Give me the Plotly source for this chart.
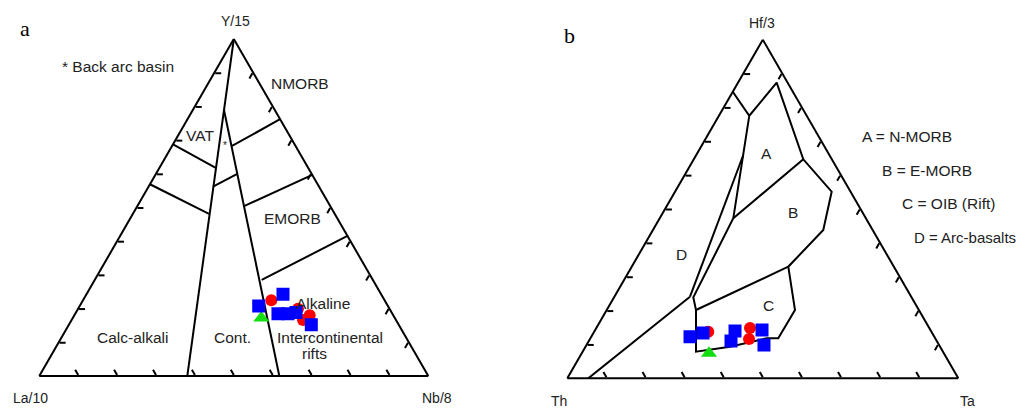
import plotly.graph_objects as go

# The page places the figure 8 px from the top-left corner of the window,
# so the figure is 1020x400 and all reference pixel positions are shifted by 8.
W, H = 1020, 400
OFF = 8

# ---------------- Panel a : La/10 - Y/15 - Nb/8 ----------------
# ternary fractions (a = Y/15 apex, b = La/10 left, c = Nb/8 right)
a_cont_left = [(1.0, 0.0, 0.0), (0.0, 0.6195, 0.3805)]
a_cont_right = [(0.7896, 0.1304, 0.080), (0.0, 0.383, 0.617)]
a_vat_low = [(0.6877, 0.3123, 0.0), (0.6183, 0.2384, 0.1433)]
a_calc_top = [(0.569, 0.431, 0.0), (0.4809, 0.3233, 0.1958)]
a_bab_low = [(0.5619, 0.2725, 0.1656), (0.5996, 0.1912, 0.2092)]
a_nmorb_low = [(0.6827, 0.1632, 0.1541), (0.762, 0.0, 0.238)]
a_emorb_low = [(0.5046, 0.2202, 0.2752), (0.5966, 0.0, 0.4034)]
a_alk_top = [(0.285, 0.2858, 0.4292), (0.4156, 0.0, 0.5844)]
a_lines = [a_cont_left, a_cont_right, a_vat_low, a_calc_top,
           a_bab_low, a_nmorb_low, a_emorb_low, a_alk_top]

a_sq_a = [0.2078, 0.2425, 0.1849, 0.1849, 0.1885, 0.1523]
a_sq_b = [0.3321, 0.2523, 0.2940, 0.2683, 0.2458, 0.2246]
a_sq_c = [0.4601, 0.5052, 0.5211, 0.5468, 0.5657, 0.6231]
a_ci_a = [0.2247, 0.1998, 0.1802, 0.1662]
a_ci_b = [0.2912, 0.2351, 0.2148, 0.2390]
a_ci_c = [0.4841, 0.5651, 0.6050, 0.5948]
a_tr_a = [0.1722]
a_tr_b = [0.3432]
a_tr_c = [0.4846]

# ---------------- Panel b : Th - Hf/3 - Ta ----------------
# (a = Hf/3 apex, b = Th left, c = Ta right)
b_outline = [(0.8464, 0.1536, 0.0), (0.7755, 0.1468, 0.0777), (0.873, 0.028, 0.099),
             (0.6468, 0.073, 0.2802), (0.5511, 0.0483, 0.4006), (0.438, 0.1263, 0.4357),
             (0.3296, 0.270, 0.4004), (0.2017, 0.3168, 0.4815), (0.1181, 0.4014, 0.4805),
             (0.1181, 0.431, 0.4509), (0.0933, 0.5373, 0.3694), (0.0786, 0.6315, 0.2899),
             (0.2017, 0.570, 0.2283), (0.2392, 0.5581, 0.2027), (0.4725, 0.3392, 0.1883),
             (0.7755, 0.1468, 0.0777)]
b_wedge = [(0.6595, 0.2201, 0.1204), (0.241, 0.5657, 0.1933)]
b_d_low = [(0.0, 0.9463, 0.0537), (0.241, 0.5657, 0.1933)]
b_ab = [(0.6468, 0.073, 0.2802), (0.4725, 0.3392, 0.1883)]
b_bc = [(0.2017, 0.570, 0.2283), (0.3296, 0.270, 0.4004)]
b_lines = [b_outline, b_wedge, b_d_low, b_ab, b_bc]

b_sq_a = [0.1229, 0.1338, 0.1397, 0.1102, 0.1426, 0.0983]
b_sq_b = [0.6247, 0.5860, 0.5012, 0.5262, 0.4307, 0.4478]
b_sq_c = [0.2524, 0.2802, 0.3591, 0.3636, 0.4267, 0.4539]
b_ci_a = [0.1376, 0.1486, 0.1161]
b_ci_b = [0.5706, 0.4584, 0.4772]
b_ci_c = [0.2918, 0.3930, 0.4067]
b_tr_a = [0.0738]
b_tr_b = [0.6007]
b_tr_c = [0.3255]

BLUE, RED, GREEN = "#0000ff", "#ff0000", "#11dd11"
LINE = "#000000"

fig = go.Figure()


def add_panel(sub, lines, sq, ci, tr):
    for ln in lines:
        fig.add_trace(go.Scatterternary(
            a=[p[0] for p in ln], b=[p[1] for p in ln], c=[p[2] for p in ln],
            mode="lines", line=dict(color=LINE, width=2),
            subplot=sub, hoverinfo="skip", showlegend=False))
    fig.add_trace(go.Scatterternary(a=tr[0], b=tr[1], c=tr[2], mode="markers",
                                    marker=dict(symbol="triangle-up", size=14, color=GREEN),
                                    subplot=sub, showlegend=False))
    fig.add_trace(go.Scatterternary(a=ci[0], b=ci[1], c=ci[2], mode="markers",
                                    marker=dict(symbol="circle", size=12, color=RED),
                                    subplot=sub, showlegend=False))
    fig.add_trace(go.Scatterternary(a=sq[0], b=sq[1], c=sq[2], mode="markers",
                                    marker=dict(symbol="square", size=13, color=BLUE),
                                    subplot=sub, showlegend=False))


add_panel("ternary", a_lines, (a_sq_a, a_sq_b, a_sq_c), (a_ci_a, a_ci_b, a_ci_c),
          (a_tr_a, a_tr_b, a_tr_c))
add_panel("ternary2", b_lines, (b_sq_a, b_sq_b, b_sq_c), (b_ci_a, b_ci_b, b_ci_c),
          (b_tr_a, b_tr_b, b_tr_c))

axis = dict(title=dict(text=""), showticklabels=False, showgrid=False,
            ticks="inside", ticklen=6, tickwidth=1.5, tickcolor="#000",
            tick0=0, dtick=0.1, linecolor="#000", linewidth=2, min=0)


def tern(x0, x1, ytop, ybot):
    x0, x1, ytop, ybot = x0 - OFF, x1 - OFF, ytop - OFF, ybot - OFF
    return dict(sum=1, bgcolor="white",
                domain=dict(x=[x0 / W, x1 / W], y=[(H - ybot) / H, (H - ytop) / H]),
                aaxis=axis, baxis=axis, caxis=axis)


fig.update_layout(
    width=W, height=H, margin=dict(l=0, r=0, t=0, b=0),
    paper_bgcolor="white", showlegend=False,
    font=dict(family="Liberation Sans, Arial", color="#222222"),
    ternary=tern(39.3, 428.3, 39.0, 376.0),
    ternary2=tern(567.3, 958.3, 39.7, 378.3),
)

labels = [
    ("a", 25, 28, 22, "Liberation Serif", "center"),
    ("Y/15", 235, 21, 14, None, "center"), ("La/10", 30, 398, 14, None, "center"),
    ("Nb/8", 437, 398, 14, None, "center"),
    ("* Back arc basin", 118, 67, 15.5, None, "center"), ("NMORB", 300, 83, 15.5, None, "center"),
    ("VAT", 200, 135, 15.5, None, "center"), ("*", 225, 145, 10, None, "center"),
    ("EMORB", 292, 218, 15.5, None, "center"),
    ("Alkaline", 323, 303, 15.5, None, "center"), ("Calc-alkali", 133, 337, 15.5, None, "center"),
    ("Cont.", 232, 337, 15.5, None, "center"), ("Intercontinental", 330, 337, 15.5, None, "center"),
    ("rifts", 314, 353, 15.5, None, "center"),
    ("b", 569, 35, 22, "Liberation Serif", "center"),
    ("Hf/3", 762, 23, 14, None, "center"), ("Th", 559, 401, 14, None, "center"),
    ("Ta", 967, 401, 14, None, "center"),
    ("A", 766, 153, 15.5, None, "center"), ("B", 793, 213, 15.5, None, "center"),
    ("C", 768, 305, 15.5, None, "center"), ("D", 681, 254, 15.5, None, "center"),
    ("A = N-MORB", 907, 136, 15.5, None, "center"), ("B = E-MORB", 927, 170, 15.5, None, "center"),
    ("C = OIB (Rift)", 948, 203, 15.5, None, "center"),
    ("D = Arc-basalts", 1018, 237, 15, None, "right"),
]
for txt, px, py, fs, fam, anchor in labels:
    f = dict(size=fs)
    if fam:
        f["family"] = fam
        f["color"] = "#000"
    fig.add_annotation(text=txt, x=(px - OFF) / W, y=1 - (py - OFF) / H,
                       xref="paper", yref="paper",
                       xanchor=anchor, yanchor="middle", showarrow=False, font=f)

fig.write_html("out.html")
